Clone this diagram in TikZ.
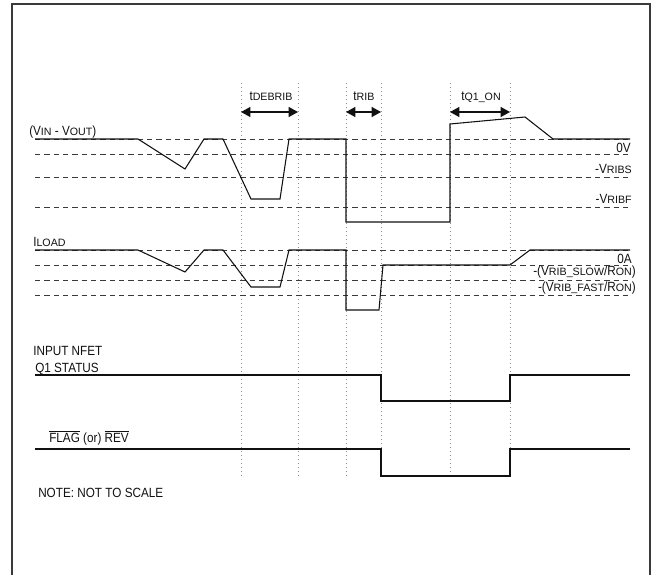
\documentclass[tikz,border=0pt]{standalone}
\usepackage{fontspec}
\setmainfont{Liberation Sans}[FakeStretch=0.88]
\newfontfamily\subfont{Liberation Sans}
\usetikzlibrary{arrows.meta}
\definecolor{traceink}{HTML}{111111}
\definecolor{gridgray}{HTML}{3A3A3A}
\definecolor{markgray}{HTML}{8C8C8C}
\newcommand{\lo}[1]{\raisebox{-0.6pt}{\subfont\fontsize{8}{9}\selectfont #1}}

\begin{document}
\begin{tikzpicture}[x=0.75pt, y=-0.75pt,
  every node/.style={font=\fontsize{10}{12}\selectfont, text=traceink, inner sep=0pt},
  frameline/.style={draw=gridgray, line width=1.3pt},
  wave/.style={traceink, line width=0.8pt},
  level/.style={gridgray, line width=0.75pt, dash pattern=on 4pt off 3pt},
  marker/.style={markgray, line width=0.7pt, dash pattern=on 0.7pt off 2.3pt},
  span/.style={{Triangle[length=7pt,width=7.5pt]}-{Triangle[length=7pt,width=7.5pt]}, traceink, line width=0.8pt}]

  \useasboundingbox (0,0) rectangle (656,575);
  \draw[frameline] (12,575) -- (12,4) -- (650,4) -- (650,575);

  % time marks
  \foreach \x in {241,298,346,381,450,510}
    \draw[marker] (\x,83) -- (\x,476);

  \coordinate (debL) at (241,112);
  \coordinate (debR) at (298,112);
  \coordinate (ribL) at (346,112);
  \coordinate (ribR) at (381,112);
  \coordinate (qonL) at (450,112);
  \coordinate (qonR) at (510,112);
  \draw[span] (debL) -- (debR);
  \draw[span] (ribL) -- (ribR);
  \draw[span] (qonL) -- (qonR);
  \node[anchor=base] (tdeb) at (271,100) {t\lo{DEBRIB}};
  \node[anchor=base] (trib) at (364,100) {t\lo{RIB}};
  \node[anchor=base] (tqon) at (481,100) {t\lo{Q1\_ON}};

  % (VIN - VOUT)
  \foreach \y in {139,154,177,207}
    \draw[level] (35,\y) -- (630,\y);
  \draw[wave] (35,139) -- (138,139) -- (185,169) -- (204,139) -- (223,139)
    -- (251,199) -- (280,199) -- (289,139) -- (346,139) -- (346,222)
    -- (450,222) -- (450,124) -- (525,117) -- (553,139) -- (630,139);
  \node[anchor=base west] (vdiff) at (29,135) {(V\lo{IN} - V\lo{OUT})};
  \node[anchor=base east] (zerov) at (631,152) {0V};
  \node[anchor=base east] (vribs) at (632,173) {-V\lo{RIBS}};
  \node[anchor=base east] (vribf) at (632,203) {-V\lo{RIBF}};

  % ILOAD
  \foreach \y in {250,265,280,295}
    \draw[level] (35,\y) -- (630,\y);
  \draw[wave] (35,250) -- (138,250) -- (185,272) -- (204,250) -- (223,250)
    -- (251,287) -- (280,287) -- (289,250) -- (346,250) -- (346,310)
    -- (379,310) -- (383,265) -- (510,265) -- (530,250) -- (630,250);
  \node[anchor=base west] (iload) at (33,246) {I\lo{LOAD}};
  \node[anchor=base east] (zeroa) at (632,263) {0A};
  \node[anchor=base east] (islow) at (636,275) {-(V\lo{RIB\_SLOW}/R\lo{ON})};
  \node[anchor=base east] (ifast) at (636,291) {-(V\lo{RIB\_FAST}/R\lo{ON})};

  % Q1 status
  \draw[wave] (35,375) -- (381,375) -- (381,401) -- (510,401) -- (510,375) -- (630,375);
  \node[anchor=base west] (nfet) at (33,355) {INPUT NFET};
  \node[anchor=base west] (qstat) at (35,372) {Q1 STATUS};

  % FLAG / REV
  \draw[wave] (35,449) -- (381,449) -- (381,476) -- (510,476) -- (510,449) -- (630,449);
  \node[anchor=base west] (flag) at (49,442) {$\overline{\mbox{FLAG}}$ (or) $\overline{\mbox{REV}}$};

  \node[anchor=base west] (note) at (38,497) {NOTE: NOT TO SCALE};

\end{tikzpicture}
\end{document}
